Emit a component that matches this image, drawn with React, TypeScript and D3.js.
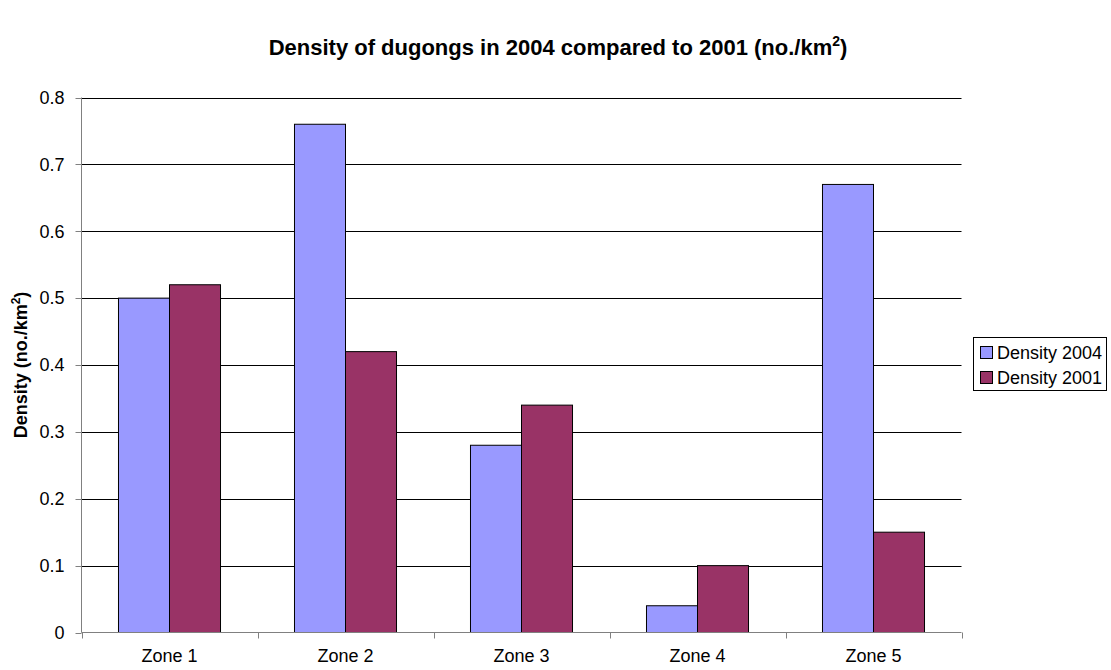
import React from "react";
import * as d3 from "d3";

const zones = ["Zone 1", "Zone 2", "Zone 3", "Zone 4", "Zone 5"];
const density2004 = [0.5, 0.76, 0.28, 0.04, 0.67];
const density2001 = [0.52, 0.42, 0.34, 0.1, 0.15];
const seriesNames = ["Density 2004", "Density 2001"];
const seriesColors = ["#9999FF", "#993366"];
const yTicks = [0, 0.1, 0.2, 0.3, 0.4, 0.5, 0.6, 0.7, 0.8];

const W = 1111;
const H = 670;
const M = { left: 81.5, right: 961.5, top: 97.5, bottom: 632.5 };
const FONT = "'Liberation Sans', Arial, sans-serif";

export default function App() {
  const x = d3.scaleBand<string>().domain(zones).range([M.left, M.right]).paddingInner(0).paddingOuter(0);
  const y = d3.scaleLinear().domain([0, 0.8]).range([M.bottom, M.top]);
  const inner = d3.scaleBand<number>().domain([0, 1]).range([0, x.bandwidth()]).paddingOuter(0.725).paddingInner(0);
  const series = [density2004, density2001];
  const boundaries = [...zones.map((z) => x(z)!), M.right];

  return (
    <svg width={W} height={H} style={{ position: "absolute", left: 0, top: 0, background: "#fff" }} fontFamily={FONT}>
      <text x={558} y={55} textAnchor="middle" fontSize={22} fontWeight="bold">
        Density of dugongs in 2004 compared to 2001 (no./km
        <tspan dy={-9} fontSize={14}>2</tspan>
        <tspan dy={9}>)</tspan>
      </text>

      {yTicks.map((t) => (
        <g key={t}>
          {t > 0 && (
            <line x1={M.left} x2={M.right} y1={Math.round(y(t)) + 0.5} y2={Math.round(y(t)) + 0.5} stroke="#000" strokeWidth={1} />
          )}
          <line x1={M.left - 6} x2={M.left} y1={Math.round(y(t)) + 0.5} y2={Math.round(y(t)) + 0.5} stroke="#808080" />
          <text x={M.left - 17} y={y(t)} dy="0.35em" textAnchor="end" fontSize={18}>
            {t === 0 ? "0" : d3.format(".1f")(t)}
          </text>
        </g>
      ))}

      {zones.map((z, i) =>
        series.map((s, j) => {
          const x0 = x(z)! + inner(j)!;
          return (
            <rect
              key={z + j}
              x={x0}
              y={y(s[i])}
              width={inner.bandwidth()}
              height={y(0) - y(s[i])}
              fill={seriesColors[j]}
              stroke="#000"
              strokeWidth={1}
            />
          );
        })
      )}

      <line x1={M.left} x2={M.left} y1={M.top} y2={M.bottom} stroke="#808080" />
      <line x1={M.left} x2={M.right} y1={M.bottom} y2={M.bottom} stroke="#808080" />
      {boundaries.map((b, i) => (
        <line key={i} x1={Math.round(b) + 0.5} x2={Math.round(b) + 0.5} y1={M.bottom} y2={M.bottom + 6} stroke="#808080" />
      ))}
      {zones.map((z) => (
        <text key={z} x={x(z)! + x.bandwidth() / 2} y={662} textAnchor="middle" fontSize={18}>
          {z}
        </text>
      ))}

      <text transform={`translate(27,365) rotate(-90)`} textAnchor="middle" fontSize={18} fontWeight="bold">
        Density (no./km
        <tspan dy={-7} fontSize={12}>2</tspan>
        <tspan dy={7}>)</tspan>
      </text>

      <rect x={973.5} y={337.5} width={133} height={53} fill="#fff" stroke="#000" />
      {seriesNames.map((n, i) => (
        <g key={n}>
          <rect x={980.5} y={346.5 + i * 25} width={12} height={12} fill={seriesColors[i]} stroke="#000" />
          <text x={997} y={352.5 + i * 25} dy="0.35em" fontSize={18}>
            {n}
          </text>
        </g>
      ))}
    </svg>
  );
}
